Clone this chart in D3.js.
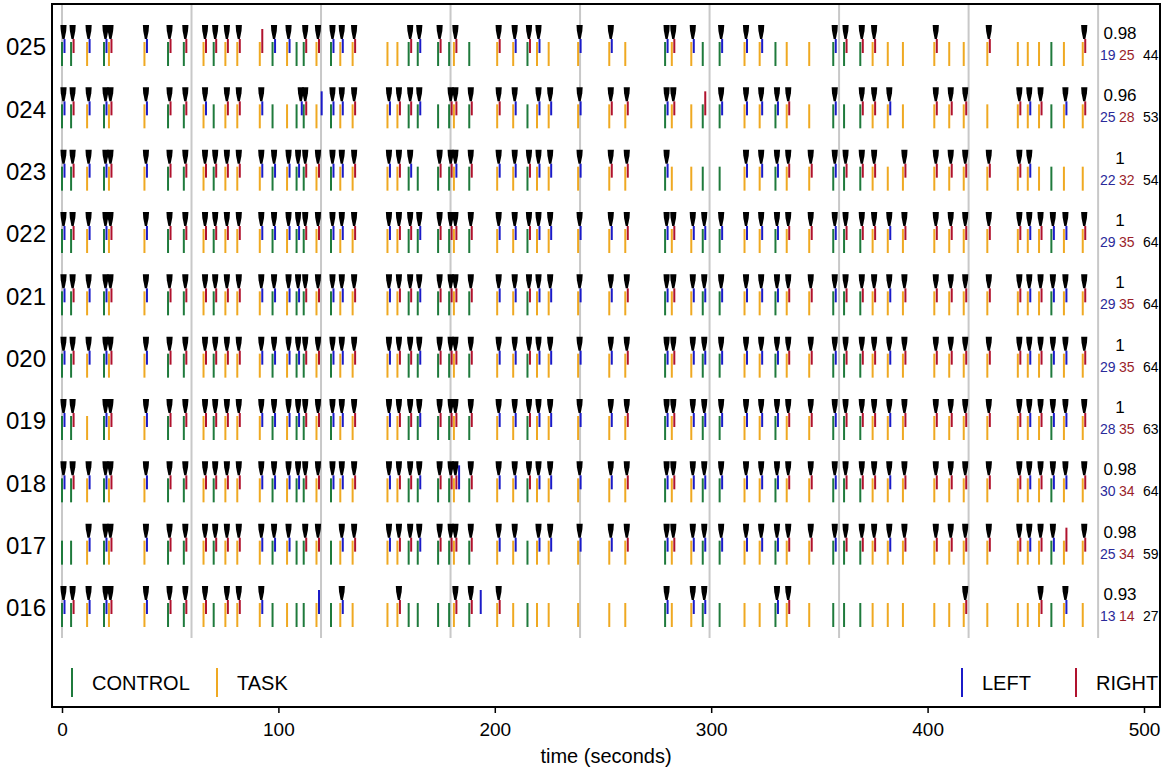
<!DOCTYPE html>
<html>
<head>
<meta charset="utf-8">
<title>Responses per subject</title>
<script src="https://cdn.jsdelivr.net/npm/d3@7"></script>
<style>
  body { margin: 0; background: #fff; }
  svg text { font-family: Arial, "Liberation Sans", sans-serif; }
</style>
</head>
<body>
<svg id="chart" width="1170" height="775"></svg>
<script>
var subjects = ['025', '024', '023', '022', '021', '020', '019', '018', '017', '016'];

// stimulus onsets (s), same run for every subject
var stimTimes = [0, 4.2, 11.6, 19.4, 21.7, 38.1, 49, 56.3, 65.4, 70.1,
  75.5, 81, 91.4, 97.3, 104, 108.4, 111.7, 117.6, 124.3, 128.6,
  134.3, 150.4, 155, 160.2, 164.4, 173.8, 178.9, 181.1, 188.2, 201.1,
  208.5, 215.1, 219.5, 224.9, 238.5, 252.9, 260.3, 278.7, 281.8, 290.8,
  296.1, 303.9, 315.4, 322.4, 329.7, 334.9, 345.3, 356.4, 361.4, 368.9,
  374.6, 381.6, 388.6, 403.1, 410, 416.7, 427.6, 441.7, 446.3, 451.5,
  457.2, 463, 471.7];
// C = control, T = task
var stimTypes = 'CCTCTTCCTC TTTCTCCTCT TTTCCCCTCT TCTTTTTCTT CCTTCTTCCC TTTTTTTTTT CTT';

// per subject, one char per stimulus: L/R response with marker, l/r without marker, . none
var responses = [
  'LRLLRLRRRR RRrLL.RRLL R..RLR.R.R LRL.LL.LRL .LLL...LRR R..R..R... ..R',
  'LRLLRLRRL. RRL...R.LL RLRRL.RRRR L.LLLRRLR. rLLLLR.L.R RL.RRR.RLR .LR',
  'LRLLRLRRRR RRLLLLRRLL RLRL.RRLRL LRLLLRRL.. ..LLLRRLRR R.RRRRRRL. ...',
  'LRLLRLRRRR RRLLLLRRLL RLRRLRRRRL LRLLLLRLRL LLLLLRRLRR RLRRRRRRLR LLR',
  'LRLLRLRRRR RRLLLLRRLL RLRRLRRRRL LRLLLLRLRL LLLLLRRLRR RLRRRRRRLR LLR',
  'LRLLRLRRRR RRLLLLRRLL RLRRLRRRRL LRLLLLRLRL LLLLLRRLRR RLRRRRRRLR LLR',
  'LR.LRLRRRR RRLLLLRRLL RLRRLRRRRL LRLLLLRLRL LLLLLRRLRR RLRRRRRRLR LLR',
  'LRLLRLRRRR RRLLLLRRLL RLRRLRRRRL LRLLLLRLRL LLLLLRRLRR RLRRRRRRLR LLR',
  '..LLRLRRRR RRLLL.RR.L RLRRLRRRRL L.LLLLRLRL LLLLLRRLRR RLRRRRRRLR LrR',
  'LRLLRLRRR. RRL....l.L ..R....RRR .......L.L L...LR.... .....R...R .L.'
];

// responses not tied to a stimulus
var extraSubject = ['024', '024', '018', '016'];
var extraTime = [110.8, 120, 183.5, 193.5];
var extraSide = ['L', 'L', 'L', 'L'];
var extraMarked = [true, false, false, false];

var accuracy = ['0.98', '0.96', '1', '1', '1', '1', '1', '0.98', '0.98', '0.93'];
var leftCounts = [19, 25, 22, 29, 29, 29, 28, 30, 25, 13];
var rightCounts = [25, 28, 32, 35, 35, 35, 35, 34, 34, 14];
var totalCounts = [44, 53, 54, 64, 64, 64, 63, 64, 59, 27];

var blockStarts = [0, 59.85, 119.7, 179.55, 239.4, 299.25, 359.1, 418.95, 478.8];
var xTicks = [0, 100, 200, 300, 400, 500];

var colors = { C: '#1f7a3c', T: '#efa922', L: '#1b1bc8', R: '#b0122e' };

var svg = d3.select('#chart');
var x = d3.scaleLinear().domain([-4.62, 507.4]).range([52, 1160]);
var y = d3.scalePoint().domain(subjects).range([47, 608]);

var types = stimTypes.replace(/ /g, '').split('');
var stimuli = [];
var resp = [];
subjects.forEach(function (s, r) {
  var codes = responses[r].replace(/ /g, '');
  stimTimes.forEach(function (t, i) {
    stimuli.push({ s: s, t: t, type: types[i] });
    var c = codes[i];
    if (c !== '.') {
      resp.push({ s: s, t: t, side: c.toUpperCase(), marked: c === c.toUpperCase(), dx: 2.5 });
    }
  });
});
extraSubject.forEach(function (s, i) {
  resp.push({ s: s, t: extraTime[i], side: extraSide[i], marked: extraMarked[i], dx: 0 });
});

// block grid lines
svg.append('g').selectAll('line')
  .data(blockStarts)
  .enter().append('line')
  .attr('x1', d => x(d)).attr('x2', d => x(d))
  .attr('y1', 4).attr('y2', 638)
  .attr('stroke', '#c8c8c8')
  .attr('stroke-width', 2);

// stimulus bars
svg.append('g').selectAll('line')
  .data(stimuli)
  .enter().append('line')
  .attr('x1', d => x(d.t)).attr('x2', d => x(d.t))
  .attr('y1', d => y(d.s) - 5).attr('y2', d => y(d.s) + 19)
  .attr('stroke', d => colors[d.type])
  .attr('stroke-width', 2);

// response bars
svg.append('g').selectAll('line')
  .data(resp)
  .enter().append('line')
  .attr('x1', d => x(d.t) + d.dx).attr('x2', d => x(d.t) + d.dx)
  .attr('y1', d => y(d.s) - (d.marked ? 8 : 18)).attr('y2', d => y(d.s) + 6)
  .attr('stroke', d => colors[d.side])
  .attr('stroke-width', 2);

// black markers on top of the responses
function marker(cx, top) {
  var bot = top + 14;
  return 'M' + (cx - 3.1) + ',' + top + 'L' + (cx + 3.1) + ',' + top +
    'L' + (cx + 2.7) + ',' + (top + 6) + 'L' + (cx + 1.1) + ',' + bot +
    'L' + (cx - 1.1) + ',' + bot + 'L' + (cx - 2.7) + ',' + (top + 6) + 'Z';
}
svg.append('g').selectAll('path')
  .data(resp.filter(d => d.marked))
  .enter().append('path')
  .attr('d', d => marker(x(d.t) + d.dx - 1, y(d.s) - 22))
  .attr('fill', '#000');

// subject labels
svg.append('g').selectAll('text')
  .data(subjects)
  .enter().append('text')
  .attr('x', 46).attr('y', d => y(d))
  .attr('dy', '0.35em')
  .attr('text-anchor', 'end')
  .style('font-size', '24px')
  .text(d => d);

// accuracy and counts on the right
var right = svg.append('g');
right.selectAll('text.acc')
  .data(subjects)
  .enter().append('text')
  .attr('class', 'acc')
  .attr('x', 1120).attr('y', d => y(d) - 8)
  .attr('text-anchor', 'middle')
  .style('font-size', '17px')
  .text((d, i) => accuracy[i]);
right.selectAll('text.nl')
  .data(subjects)
  .enter().append('text')
  .attr('class', 'nl')
  .attr('x', 1100).attr('y', d => y(d) + 13)
  .attr('fill', '#2a2a9a')
  .style('font-size', '14px')
  .text((d, i) => leftCounts[i]);
right.selectAll('text.nr')
  .data(subjects)
  .enter().append('text')
  .attr('class', 'nr')
  .attr('x', 1119).attr('y', d => y(d) + 13)
  .attr('fill', '#9a1e2a')
  .style('font-size', '14px')
  .text((d, i) => rightCounts[i]);
right.selectAll('text.nt')
  .data(subjects)
  .enter().append('text')
  .attr('class', 'nt')
  .attr('x', 1143).attr('y', d => y(d) + 13)
  .style('font-size', '14px')
  .text((d, i) => totalCounts[i]);

// legend
var legend = [
  { label: 'CONTROL', color: colors.C, x: 72 },
  { label: 'TASK', color: colors.T, x: 217 },
  { label: 'LEFT', color: colors.L, x: 962 },
  { label: 'RIGHT', color: colors.R, x: 1076 }
];
var lg = svg.append('g').selectAll('g')
  .data(legend)
  .enter().append('g');
lg.append('line')
  .attr('x1', d => d.x).attr('x2', d => d.x)
  .attr('y1', 668).attr('y2', 697)
  .attr('stroke', d => d.color)
  .attr('stroke-width', 2);
lg.append('text')
  .attr('x', d => d.x + 20).attr('y', 690)
  .style('font-size', '20px')
  .text(d => d.label);

// x axis
var axis = svg.append('g')
  .attr('transform', 'translate(0,707)')
  .call(d3.axisBottom(x).tickValues(xTicks).tickSize(6).tickSizeOuter(0));
axis.select('.domain').remove();
axis.selectAll('line').attr('stroke', '#000').attr('stroke-width', 1.5);
axis.selectAll('text')
  .style('font-size', '19px')
  .style('font-family', 'Arial, "Liberation Sans", sans-serif')
  .attr('dy', '1.05em');

svg.append('text')
  .attr('x', 606).attr('y', 763)
  .attr('text-anchor', 'middle')
  .style('font-size', '20px')
  .text('time (seconds)');

// frame
svg.append('rect')
  .attr('x', 52).attr('y', 4)
  .attr('width', 1108).attr('height', 703)
  .attr('fill', 'none')
  .attr('stroke', '#000')
  .attr('stroke-width', 2);
</script>
</body>
</html>
